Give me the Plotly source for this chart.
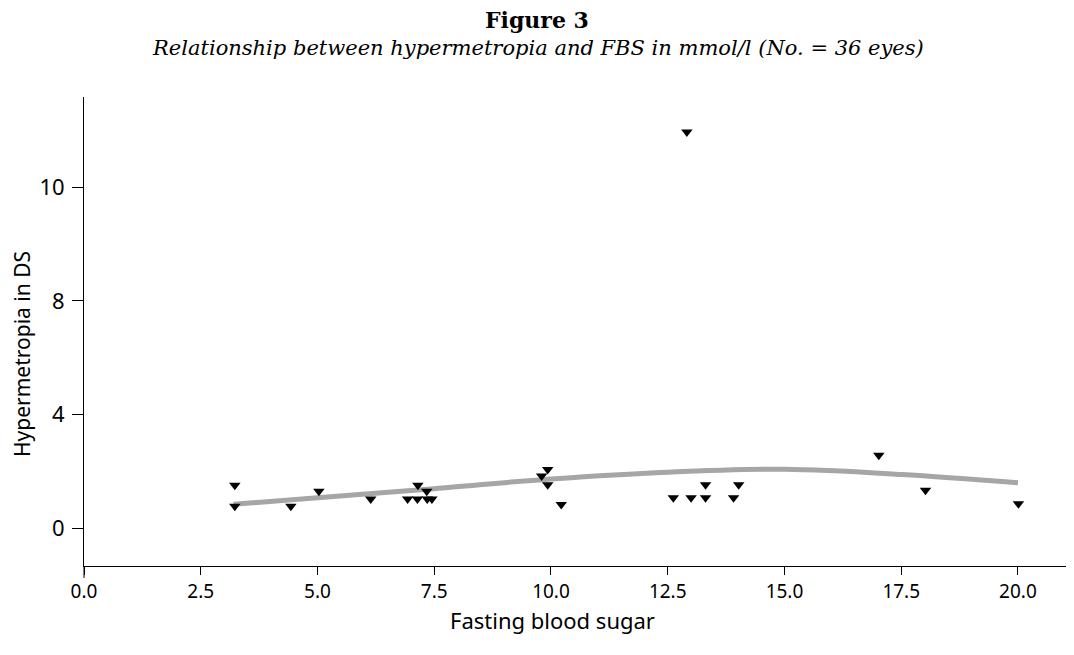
import plotly.graph_objects as go

# Observed data points (fasting blood sugar, hypermetropia in DS; y on the chart's linear scale)
fbs = [3.23, 3.23, 4.43, 5.03, 6.14, 6.93, 7.14, 7.35, 7.45, 7.15, 7.34,
       9.93, 9.80, 9.93, 10.22, 12.62, 13.00, 13.31, 13.31, 13.91, 14.02,
       17.02, 18.02, 20.01, 12.91]
hyper = [1.52, 0.78, 0.78, 1.31, 1.04, 1.04, 1.04, 1.04, 1.04, 1.52, 1.31,
         2.07, 1.84, 1.54, 0.84, 1.08, 1.08, 1.08, 1.54, 1.08, 1.54,
         2.57, 1.34, 0.87, 13.94]

# Fitted curve
fit_x = [3.2, 5.0, 7.5, 10.0, 12.5, 15.0, 17.5, 20.0]
fit_y = [0.85, 1.08, 1.40, 1.74, 1.98, 2.08, 1.90, 1.61]

x_ticks = [0, 2.5, 5, 7.5, 10, 12.5, 15, 17.5, 20]
y_tickvals = [0, 4, 8, 12]
y_ticktext = ["0", "4", "8", "10"]

W, H = 1074, 655
OFF = 8  # page body margin
L, R, T, B = 84 - OFF, OFF, 97 - OFF, 655 - (566 - OFF)
PW, PH = W - L - R, H - T - B


def px_x(p):
    return (p - OFF - L) / PW


def px_y(p):
    return (H - B - (p - OFF)) / PH


fig = go.Figure()
fig.add_trace(go.Scatter(x=fit_x, y=fit_y, mode="lines",
                         line=dict(color="#a6a6a6", width=5, shape="spline", smoothing=1.0),
                         hoverinfo="skip", showlegend=False))
fig.add_trace(go.Scatter(x=fbs, y=hyper, mode="markers",
                         marker=dict(symbol="triangle-down", size=10, color="black"),
                         showlegend=False))

sans = "Noto Sans"
serif = "DejaVu Serif"
fig.update_layout(
    width=W, height=H,
    paper_bgcolor="white", plot_bgcolor="white",
    margin=dict(l=L, r=R, t=T, b=B),
    font=dict(family=sans, color="black", size=20),
    xaxis=dict(range=[0, 21.2], tickvals=x_ticks, tickformat=".1f",
               showgrid=False, zeroline=False, showline=True, linecolor="black",
               linewidth=1, ticks="outside", ticklen=8, tickcolor="black",
               tickfont=dict(size=19, family=sans), automargin=False),
    yaxis=dict(range=[-1.32, 15.17], tickvals=y_tickvals, ticktext=y_ticktext,
               showgrid=False, zeroline=False, showline=True, linecolor="black",
               linewidth=1, ticks="outside", ticklen=11, tickcolor="black",
               ticklabelstandoff=3,
               tickfont=dict(size=22, family=sans), automargin=False),
    annotations=[
        dict(text="<b>Figure 3</b>", x=px_x(537), xref="paper", y=px_y(20), yref="paper",
             yanchor="middle", showarrow=False, font=dict(family=serif, size=22)),
        dict(text="<i>Relationship between hypermetropia and FBS in mmol/l (No. = 36 eyes)</i>",
             x=px_x(538), xref="paper", y=px_y(48), yref="paper", yanchor="middle",
             showarrow=False, font=dict(family=serif, size=21)),
        dict(text="Fasting blood sugar", x=px_x(552), xref="paper", y=px_y(620),
             yref="paper", yanchor="middle", showarrow=False,
             font=dict(family=sans, size=22)),
        dict(text="Hypermetropia in DS", x=px_x(22), xref="paper", y=px_y(354),
             yref="paper", xanchor="center", yanchor="middle", textangle=-90,
             showarrow=False, font=dict(family=sans, size=21)),
    ],
    shapes=[dict(type="line", xref="paper", yref="paper", x0=0, x1=0,
                 y0=0, y1=-12 / PH, line=dict(color="black", width=1))],
)

fig.write_html("out.html")
